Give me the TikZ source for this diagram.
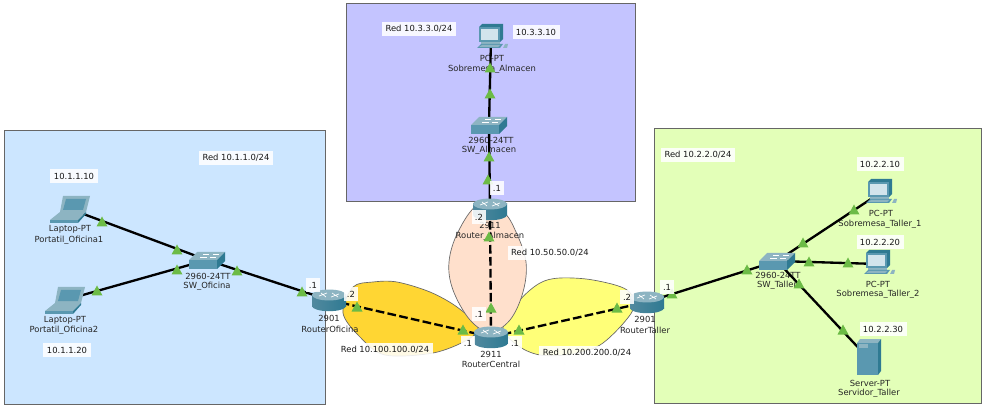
\documentclass[tikz,border=0pt]{standalone}
\usepackage{fontspec}
\setmainfont{DejaVu Sans}
\definecolor{tealF}{HTML}{5A98B0}
\definecolor{tealT}{HTML}{8DB4C2}
\definecolor{tealD}{HTML}{2F7A92}
\definecolor{tealL}{HTML}{D2E4EC}
\definecolor{tri}{HTML}{6CBB46}
\tikzset{
  x=0.75pt,y=-0.75pt,
  zone/.style={draw=black!60,line width=0.75pt},
  blob/.style={draw=black!60,line width=0.5pt},
  dev/.style={font=\fontsize{6.3}{7}\selectfont,text=black!85,inner sep=0pt},
  tag/.style={font=\fontsize{6.3}{7}\selectfont,text=black!90,fill=white,fill opacity=.88,text opacity=1,inner xsep=2.6pt,inner ysep=2.6pt},
  link/.style={line width=1.75pt,black},
  dlink/.style={line width=1.75pt,black,dash pattern=on 6.5pt off 2.5pt},
  router/.pic={
    \shade[left color=tealF!90!black,middle color=white!85!tealF,right color=tealD] (-17,-5) rectangle (17,6);
    \shade[left color=tealF!90!black,middle color=white!85!tealF,right color=tealD] (0,6) ellipse [x radius=12.75pt,y radius=3.9pt];
    \fill[tealT] (0,-5) ellipse [x radius=12.75pt,y radius=4.1pt];
    \draw[white,line width=.5pt] (-10,-4) -- (-2,-7) (2,-3) -- (10,-6) (-8,-7) -- (-3,-3) (3,-7) -- (9,-3);
  },
  switchbox/.pic={
    \fill[tealT] (-18,0) -- (-10,-8) -- (18,-8) -- (10,0) -- cycle;
    \fill[tealF] (-18,0) rectangle (10,9);
    \fill[tealD] (10,0) -- (18,-8) -- (18,1) -- (10,9) -- cycle;
    \draw[white,line width=.4pt] (-7,-3) -- (0,-3) (3,-3) -- (9,-3) (-4,-6) -- (2,-6) (6,-6) -- (12,-6);
  },
  laptop/.pic={
    \fill[tealT] (-7,-13) -- (20,-13) -- (16,3) -- (-10,3) -- cycle;
    \fill[tealF] (-4,-10) -- (16,-10) -- (13,1) -- (-7,1) -- cycle;
    \fill[tealT] (-20,11) -- (-10,3) -- (16,3) -- (8,11) -- cycle;
    \fill[tealF] (-20,11) rectangle (8,14);
    \fill[tealD] (8,11) -- (16,3) -- (16,5) -- (8,14) -- cycle;
  },
  pcbox/.pic={
    \fill[tealD] (-12,-11) -- (-9,-14) -- (12,-14) -- (12,1) -- (9,4) -- cycle;
    \fill[tealF] (-12,-11) rectangle (9,4);
    \fill[tealL] (-10,-9) rectangle (7,2);
    \fill[tealT] (-10,4) rectangle (9,6);
    \fill[tealF] (-14,10) -- (-10,6) -- (12,6) -- (9,10) -- cycle;
    \fill[tealT] (-12,9) -- (-9,7) -- (9,7) -- (7,9) -- cycle;
    \fill[tealT] (12,10) -- (14,6) -- (17,6) -- (16,10) -- cycle;
  },
  serverbox/.pic={
    \fill[tealT] (-11,-15) -- (-8,-19) -- (13,-19) -- (10,-15) -- cycle;
    \fill[tealD] (10,-15) -- (13,-19) -- (13,13) -- (10,17) -- cycle;
    \fill[tealF] (-11,-15) rectangle (10,17);
    \fill[tealT] (-9,-14) rectangle (0,-10);
  },
}
\newcommand{\mk}[1]{\fill[tri] (#1) ++(-5.5,4.5) -- ++(5.5,-10) -- ++(5.5,10) -- cycle;}
\begin{document}
\begin{tikzpicture}
\useasboundingbox (0,0) rectangle (992,413);
\fill[white] (0,0) rectangle (992,413);
% zones
\draw[zone,fill=blue!0!white,fill=cyan!0] (4,131) rectangle (325,404);
\definecolor{zl}{HTML}{CCE6FF}\definecolor{zt}{HTML}{C4C4FF}\definecolor{zr}{HTML}{E3FFB8}
\draw[zone,fill=zl] (4,131) rectangle (325,404);
\draw[zone,fill=zt] (346,4) rectangle (635,202);
\draw[zone,fill=zr] (654,129) rectangle (981,403);
% coverage shapes
\draw[blob,fill=orange!0,fill={rgb,255:red,255;green,214;blue,51}] plot[smooth cycle,tension=.55] coordinates {(478,327) (457,307) (430,292) (397,282) (373,282) (353,287) (343,313) (360,337) (385,355) (433,353) (467,340)};
\draw[blob,fill={rgb,255:red,255;green,255;blue,120}] plot[smooth cycle,tension=.55] coordinates {(503,327) (520,300) (540,283) (560,278) (593,280) (627,290) (633,310) (603,343) (573,354) (540,355) (517,345)};
\draw[blob,fill={rgb,255:red,255;green,224;blue,204}] plot[smooth cycle,tension=.6] coordinates {(478,205) (458,232) (449,262) (453,290) (470,320) (490,332) (510,320) (523,292) (526,262) (516,232) (503,212)};
% device labels
\node[dev] (lLapA) at (70,229) {Laptop-PT};
\node[dev] (nLapA) at (69,240) {Portatil\_Oficina1};
\node[dev] (lLapB) at (65,320) {Laptop-PT};
\node[dev] (nLapB) at (64,330) {Portatil\_Oficina2};
\node[dev] (lSwO) at (208,276) {2960-24TT};
\node[dev] (nSwO) at (207,286) {SW\_Oficina};
\node[dev] (lRO) at (329,318) {2901};
\node[dev] (nRO) at (330,329) {RouterOficina};
\node[dev] (lRC) at (491,354) {2911};
\node[dev] (nRC) at (491,364) {RouterCentral};
\node[dev] (lRA) at (490,225) {2911};
\node[dev] (nRA) at (490,236) {Router\_Almacen};
\node[dev] (lRT) at (645,319) {2901};
\node[dev] (nRT) at (645,330) {RouterTaller};
\node[dev] (lSwT) at (778,275) {2960-24TT};
\node[dev] (nSwT) at (777,285) {SW\_Taller};
\node[dev] (lPA) at (881,213) {PC-PT};
\node[dev] (nPA) at (880,224) {Sobremesa\_Taller\_1};
\node[dev] (lPB) at (878,284) {PC-PT};
\node[dev] (nPB) at (878,294) {Sobremesa\_Taller\_2};
\node[dev] (lSrv) at (870,383) {Server-PT};
\node[dev] (nSrv) at (869,393) {Servidor\_Taller};
\node[dev] (lPAl) at (492,58) {PC-PT};
\node[dev] (nPAl) at (492,69) {Sobremesa\_Almacen};
\node[dev] (lSwA) at (491,140) {2960-24TT};
\node[dev] (nSwA) at (489,150) {SW\_Almacen};
% device anchors
\coordinate (lapA) at (70,209);
\coordinate (lapB) at (65,300);
\coordinate (swO) at (207,260);
\coordinate (rO) at (329,300);
\coordinate (rC) at (491,337);
\coordinate (rA) at (490,209);
\coordinate (rT) at (647,302);
\coordinate (swT) at (777,261);
\coordinate (pcA) at (880,193);
\coordinate (pcB) at (878,264);
\coordinate (srv) at (868,358);
\coordinate (pcAl) at (491,38);
\coordinate (swA) at (489,125);
% connectors
\draw[link] (lapA) -- (swO);
\draw[link] (lapB) -- (swO);
\draw[link] (swO) -- (rO);
\draw[link] (rT) -- (swT);
\draw[link] (swT) -- (pcA);
\draw[link] (swT) -- (pcB);
\draw[link] (swT) -- (srv);
\draw[link] (pcAl) -- (swA);
\draw[link] (swA) -- (rA);
\draw[dlink] (rO) -- (rC);
\draw[dlink] (rC) -- (rT);
\draw[dlink] (rA) -- (rC);
% icons
\pic at (lapA) {laptop};
\pic at (lapB) {laptop};
\pic at (swO) {switchbox};
\pic at (swT) {switchbox};
\pic at (swA) {switchbox};
\pic at (rO) {router};
\pic at (rC) {router};
\pic at (rA) {router};
\pic at (rT) {router};
\pic at (pcA) {pcbox};
\pic at (pcB) {pcbox};
\pic at (pcAl) {pcbox};
\pic at (srv) {serverbox};
% link lights
\mk{102,222}\mk{177,250}\mk{177,270}\mk{97,291}\mk{237,271}\mk{302,292}
\mk{357,307}\mk{463,330}\mk{519,330}\mk{617,308}\mk{491,308}\mk{489,237}
\mk{672,294}\mk{747,270}\mk{803,243}\mk{854,210}\mk{809,262}\mk{848,263}\mk{799,284}\mk{843,330}
\mk{490,68}\mk{490,94}\mk{489,157}\mk{488,180}
% notes
\node[tag] (t1) at (236,158) {Red 10.1.1.0/24};
\node[tag] (t2) at (74,176) {10.1.1.10};
\node[tag] (t3) at (67,350) {10.1.1.20};
\node[tag] (t4) at (313,285) {.1};
\node[tag] (t5) at (351,294) {.2};
\node[tag] (t6) at (385,350) {Red 10.100.100.0/24};
\node[tag] (t7) at (468,343) {.1};
\node[tag] (t8) at (515,343) {.1};
\node[tag] (t9) at (587,353) {Red 10.200.200.0/24};
\node[tag] (t10) at (550,253) {Red 10.50.50.0/24};
\node[tag] (t11) at (479,217) {.2};
\node[tag] (t12) at (497,188) {.1};
\node[tag] (t13) at (479,314) {.1};
\node[tag] (t14) at (627,297) {.2};
\node[tag] (t15) at (667,287) {.1};
\node[tag] (t16) at (698,155) {Red 10.2.2.0/24};
\node[tag] (t17) at (880,164) {10.2.2.10};
\node[tag] (t18) at (880,242) {10.2.2.20};
\node[tag] (t19) at (883,329) {10.2.2.30};
\node[tag] (t20) at (419,29) {Red 10.3.3.0/24};
\node[tag] (t21) at (536,32) {10.3.3.10};
\end{tikzpicture}
\end{document}
